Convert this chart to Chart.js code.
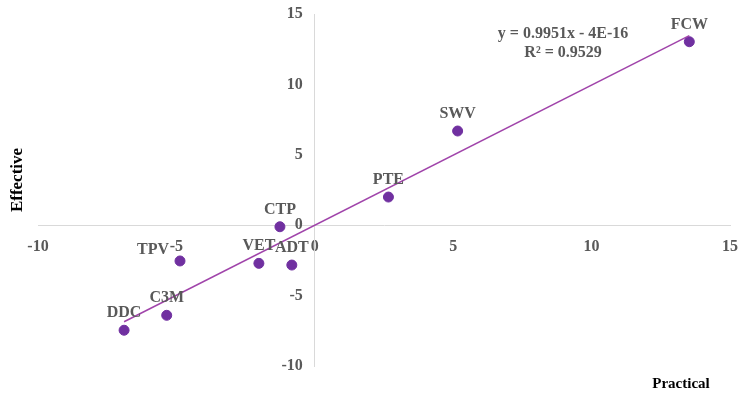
<!DOCTYPE html>
<html>
<head>
<meta charset="utf-8">
<script src="https://cdn.jsdelivr.net/npm/chart.js@4/dist/chart.umd.min.js"></script>
<style>
  body { margin: 0; background: #fff; }
  canvas { display: block; }
</style>
</head>
<body>
<canvas id="chart" width="750" height="394"></canvas>
<script>
// company codes and their practical / effective scores
var names = ['FCW', 'SWV', 'PTE', 'CTP', 'VET', 'ADT', 'TPV', 'C3M', 'DDC'];
var practical = [13.53, 5.16, 2.66, -1.26, -2.02, -0.83, -4.87, -5.35, -6.89];
var effective = [13.03, 6.69, 2.00, -0.11, -2.71, -2.83, -2.54, -6.40, -7.46];

// linear fit as printed on the chart
var slope = 0.9951;
var intercept = -4e-16;
var rSquared = 0.9529;

var axisTicks = [-10, -5, 0, 5, 10, 15];

var serif = '"Liberation Serif", "Times New Roman", serif';
var grey = '#595959';

var points = names.map(function(n, i) {
    return { x: practical[i], y: effective[i] };
});

var xMin = Math.min.apply(null, practical);
var xMax = Math.max.apply(null, practical);
var trend = [
    { x: xMin, y: slope * xMin + intercept },
    { x: xMax, y: slope * xMax + intercept }
];

// label nudges in pixels, default is straight above the point
var labelShift = { TPV: [-27, -11] };

var extrasPlugin = {
    id: 'extras',
    afterDatasetsDraw: function(chart) {
        var ctx = chart.ctx;
        var meta = chart.getDatasetMeta(1);
        ctx.save();
        ctx.font = 'bold 16px ' + serif;
        ctx.fillStyle = grey;
        ctx.textAlign = 'center';
        ctx.textBaseline = 'middle';
        meta.data.forEach(function(pt, i) {
            var s = labelShift[names[i]] || [0, -17];
            ctx.fillText(names[i], pt.x + s[0], pt.y + s[1]);
        });

        // trendline equation
        var xs = chart.scales.x, ys = chart.scales.y;
        var ex = xs.getPixelForValue(8.97);
        var ey = ys.getPixelForValue(13.6);
        ctx.fillText('y = ' + slope + 'x - 4E-16', ex, ey);
        ctx.fillText('R\u00B2 = ' + rSquared, ex, ey + 19);

        // axis titles
        ctx.fillStyle = '#000';
        ctx.font = 'bold 15px ' + serif;
        ctx.fillText('Practical', 681, 384);
        ctx.font = 'bold 17px ' + serif;
        ctx.translate(18, 180);
        ctx.rotate(-Math.PI / 2);
        ctx.fillText('Effective', 0, 0);
        ctx.restore();
    }
};

function axis(pos) {
    return {
        type: 'linear',
        min: axisTicks[0],
        max: axisTicks[axisTicks.length - 1],
        position: pos,
        afterBuildTicks: function(scale) {
            scale.ticks = axisTicks.map(function(v) { return { value: v }; });
        },
        // axes sit inside the plot, so they take no room of their own
        afterFit: function(scale) {
            if (scale.isHorizontal()) scale.height = 0; else scale.width = 0;
            scale.paddingTop = scale.paddingBottom = 0;
            scale.paddingLeft = scale.paddingRight = 0;
        },
        grid: { display: false, drawTicks: false },
        border: { display: true, color: '#d9d9d9', width: 1 },
        ticks: {
            padding: 12,
            color: grey,
            font: { family: serif, size: 16, weight: 'bold' }
        }
    };
}

var yAxis = axis({ x: 0 });
// right-aligned labels sit flush on the axis line, pad them off it
yAxis.ticks.callback = function(v) { return v + '   '; };

new Chart(document.getElementById('chart'), {
    type: 'scatter',
    data: {
        datasets: [{
            type: 'line',
            data: trend,
            borderColor: '#a044aa',
            borderWidth: 1.5,
            pointRadius: 0,
            fill: false
        }, {
            data: points,
            backgroundColor: '#7030a0',
            borderColor: '#7030a0',
            pointRadius: 5,
            pointHoverRadius: 5
        }]
    },
    options: {
        responsive: false,
        animation: false,
        layout: { padding: { left: 38, right: 20, top: 14, bottom: 28 } },
        plugins: {
            legend: { display: false },
            tooltip: { enabled: false }
        },
        scales: {
            x: axis({ y: 0 }),
            y: yAxis
        }
    },
    plugins: [extrasPlugin]
});
</script>
</body>
</html>
